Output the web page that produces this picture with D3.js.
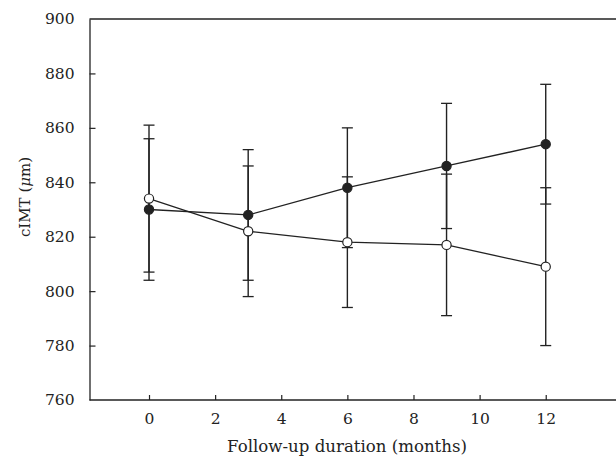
<!DOCTYPE html>
<html>
<head>
<meta charset="utf-8">
<script src="https://cdn.jsdelivr.net/npm/d3@7"></script>
<style>
  body { margin: 0; background: #fff; }
  svg { display: block; }
  .axis text { font-family: "DejaVu Serif", serif; font-size: 15.5px; fill: #222; }
</style>
</head>
<body>
<div id="chart"></div>
<script>
// months of follow-up
var months = [0, 3, 6, 9, 12];

// filled circles
var filledMean = [830, 828, 838, 846, 854];
var filledErr  = [26, 24, 22, 23, 22];

// open circles
var openMean = [834, 822, 818, 817, 809];
var openErr  = [27, 24, 24, 26, 29];

var xTicks = [0, 2, 4, 6, 8, 10, 12];
var yTicks = [760, 780, 800, 820, 840, 860, 880, 900];

var W = 616, H = 459;
var margin = {top: 19, right: 0, bottom: 59, left: 89.5};
var serif = "DejaVu Serif, serif";

var svg = d3.select("#chart").append("svg")
    .attr("width", W)
    .attr("height", H);

var x = d3.scaleLinear()
    .domain([-1.8, 14.2])
    .range([margin.left, margin.left + 16 * 33.06]);

var y = d3.scaleLinear()
    .domain([760, 900])
    .range([H - margin.bottom, margin.top]);

var ink = "#222";

// frame: left, top, bottom
svg.append("line")
    .attr("x1", margin.left).attr("x2", W + 2)
    .attr("y1", y(900)).attr("y2", y(900))
    .attr("stroke", ink).attr("stroke-width", 1.3);

var xAxis = svg.append("g")
    .attr("class", "axis")
    .attr("transform", "translate(0," + y(760) + ")")
    .call(d3.axisBottom(x).tickValues(xTicks).tickSizeInner(-5).tickSizeOuter(0).tickPadding(13));
xAxis.select(".domain").attr("d", "M" + margin.left + ",0H" + (W + 2));

var yAxis = svg.append("g")
    .attr("class", "axis")
    .attr("transform", "translate(" + margin.left + ",0)")
    .call(d3.axisLeft(y).tickValues(yTicks).tickSizeInner(-6).tickSizeOuter(0).tickPadding(15));

svg.selectAll(".axis .domain").attr("stroke", ink).attr("stroke-width", 1.3);
svg.selectAll(".axis .tick line").attr("stroke", ink).attr("stroke-width", 1.2);
yAxis.selectAll(".tick").filter(function(d) { return d === 900 || d === 760; }).select("line").remove();

// axis titles
svg.append("text")
    .attr("x", 347)
    .attr("y", 452)
    .attr("text-anchor", "middle")
    .attr("font-family", serif)
    .attr("font-size", 16.6)
    .attr("fill", ink)
    .text("Follow-up duration (months)");

var yl = svg.append("text")
    .attr("transform", "translate(30,197) rotate(-90)")
    .attr("text-anchor", "middle")
    .attr("font-family", serif)
    .attr("font-size", 15)
    .attr("fill", ink);
yl.append("tspan").text("cIMT (");
yl.append("tspan").attr("font-style", "italic").text("μ");
yl.append("tspan").text("m)");

function series(mean, err, fill) {
    var data = months.map(function(m, i) { return {m: m, v: mean[i], e: err[i]}; });
    var g = svg.append("g");

    var bars = g.selectAll(".eb").data(data).enter().append("g");
    bars.append("line")
        .attr("x1", function(d) { return x(d.m); })
        .attr("x2", function(d) { return x(d.m); })
        .attr("y1", function(d) { return y(d.v - d.e); })
        .attr("y2", function(d) { return y(d.v + d.e); })
        .attr("stroke", ink).attr("stroke-width", 1.4);
    [-1, 1].forEach(function(s) {
        bars.append("line")
            .attr("x1", function(d) { return x(d.m) - 5.5; })
            .attr("x2", function(d) { return x(d.m) + 5.5; })
            .attr("y1", function(d) { return y(d.v + s * d.e); })
            .attr("y2", function(d) { return y(d.v + s * d.e); })
            .attr("stroke", ink).attr("stroke-width", 1.3);
    });
    return {g: g, data: data, fill: fill};
}

var sF = series(filledMean, filledErr, ink);
var sO = series(openMean, openErr, "#fff");

var line = d3.line()
    .x(function(d) { return x(d.m); })
    .y(function(d) { return y(d.v); });

[sF, sO].forEach(function(s) {
    svg.append("path")
        .datum(s.data)
        .attr("d", line)
        .attr("fill", "none")
        .attr("stroke", ink)
        .attr("stroke-width", 1.3);
});

[sF, sO].forEach(function(s) {
    svg.append("g").selectAll("circle")
        .data(s.data)
        .enter().append("circle")
        .attr("cx", function(d) { return x(d.m); })
        .attr("cy", function(d) { return y(d.v); })
        .attr("r", 4.6)
        .attr("fill", s.fill)
        .attr("stroke", ink)
        .attr("stroke-width", 1.2);
});
</script>
</body>
</html>
